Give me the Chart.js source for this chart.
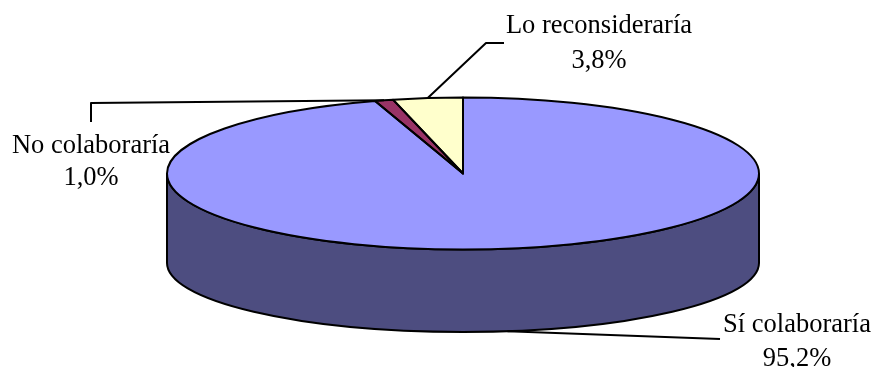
<!DOCTYPE html>
<html>
<head>
<meta charset="utf-8">
<title>Colaboración</title>
<script src="https://cdn.jsdelivr.net/npm/chart.js@4/dist/chart.umd.min.js"></script>
<style>
  html, body { margin: 0; padding: 0; background: #fff; overflow: hidden; }
  canvas { display: block; }
</style>
</head>
<body>
<canvas id="pie" width="874" height="367"></canvas>
<script>
// Datos del gráfico
const categories = ['Sí colaboraría', 'No colaboraría', 'Lo reconsideraría'];
const values = [95.2, 1.0, 3.8];
const topColors = ['#9999ff', '#993366', '#ffffcc'];
const sideColors = ['#4d4d80', '#4d1a33', '#808066'];

// Forma del disco en pantalla
const disc = { cx: 463, cy: 173.5, rx: 296, ry: 76, sideY: 263, sideRy: 69 };

// Etiquetas y líneas guía, en el mismo orden que categories
const labelLayout = [
  { x: 797, y: [332, 366], leader: [[720, 339]], base: 'side' },
  { x: 91, y: [153, 185], leader: [[91, 122], [91, 103]], base: 'top' },
  { x: 599, y: [33, 68], leader: [[504, 43], [486, 43]], base: 'top' }
];

function formatValue(v) {
  return v.toFixed(1).replace('.', ',') + '%';
}

const piePlugin = {
  id: 'pie3d',
  beforeDatasetsDraw(chart) {
    const ctx = chart.ctx;
    const arcs = chart.getDatasetMeta(0).data;
    const k = disc.ry / arcs[0].outerRadius;
    const sideK = disc.sideRy / arcs[0].outerRadius;

    // pared lateral: solo la mitad delantera
    arcs.forEach((arc, i) => {
      const a0 = Math.max(arc.startAngle, 0);
      const a1 = Math.min(arc.endAngle, Math.PI);
      if (a1 <= a0) return;
      ctx.beginPath();
      ctx.ellipse(disc.cx, disc.sideY, disc.rx, disc.rx * sideK, 0, a0, a1);
      ctx.ellipse(disc.cx, disc.cy, disc.rx, disc.ry, 0, a1, a0, true);
      ctx.closePath();
      ctx.fillStyle = sideColors[i];
      ctx.fill();
      ctx.lineWidth = 2;
      ctx.strokeStyle = '#000';
      ctx.stroke();
    });

    // la tapa se aplana con la transformación
    ctx.save();
    ctx.translate(disc.cx, disc.cy);
    ctx.scale(1, k);
    ctx.translate(-arcs[0].x, -arcs[0].y);
  },
  afterDatasetsDraw(chart) {
    const ctx = chart.ctx;
    ctx.restore();
    const arcs = chart.getDatasetMeta(0).data;

    // contorno de cada porción con grosor uniforme
    ctx.lineWidth = 2;
    ctx.strokeStyle = '#000';
    ctx.lineJoin = 'round';
    arcs.forEach(arc => {
      ctx.beginPath();
      ctx.moveTo(disc.cx, disc.cy);
      ctx.ellipse(disc.cx, disc.cy, disc.rx, disc.ry, 0, arc.startAngle, arc.endAngle);
      ctx.closePath();
      ctx.stroke();
    });

    // líneas guía y textos
    arcs.forEach((arc, i) => {
      const mid = (arc.startAngle + arc.endAngle) / 2;
      const lay = labelLayout[i];
      const ax = disc.cx + disc.rx * Math.cos(mid);
      const ay = lay.base === 'side'
        ? disc.sideY + disc.sideRy * Math.sin(mid)
        : disc.cy + disc.ry * Math.sin(mid);
      ctx.beginPath();
      ctx.moveTo(lay.leader[0][0], lay.leader[0][1]);
      lay.leader.slice(1).forEach(p => ctx.lineTo(p[0], p[1]));
      ctx.lineTo(ax, ay);
      ctx.lineWidth = 2;
      ctx.strokeStyle = '#000';
      ctx.stroke();

      ctx.fillStyle = '#000';
      ctx.font = '26.5px "Liberation Serif"';
      ctx.textAlign = 'center';
      ctx.textBaseline = 'alphabetic';
      ctx.fillText(categories[i], lay.x, lay.y[0]);
      ctx.fillText(formatValue(values[i]), lay.x, lay.y[1]);
    });
  }
};

new Chart(document.getElementById('pie'), {
  type: 'pie',
  data: {
    labels: categories,
    datasets: [{
      data: values,
      backgroundColor: topColors,
      borderWidth: 0,
      clip: false
    }]
  },
  options: {
    responsive: false,
    animation: false,
    radius: disc.rx,
    layout: { padding: { left: 52 } },
    plugins: {
      legend: { display: false },
      tooltip: { enabled: false }
    },
    events: []
  },
  plugins: [piePlugin]
});
</script>
</body>
</html>
